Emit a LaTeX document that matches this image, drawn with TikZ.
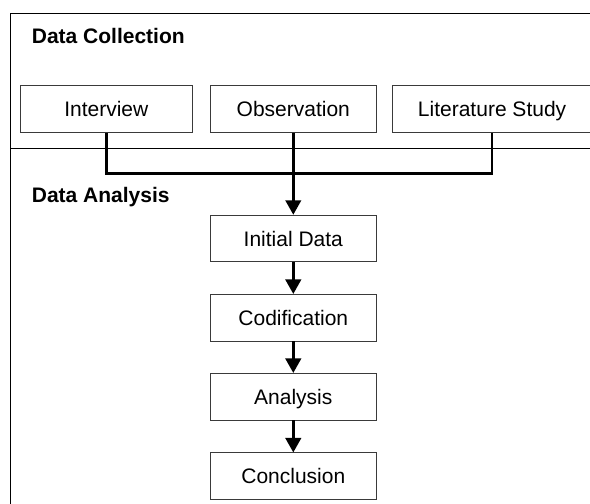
\documentclass[tikz,border=0pt]{standalone}
\usepackage{fontspec}
\setmainfont{Liberation Sans}
\usetikzlibrary{arrows.meta}

\begin{document}
\begin{tikzpicture}[x=1pt, y=-1pt]
    % Define lengths
    \def\boxHeight{46.6}
    \def\junctionY{173.3}

    \definecolor{borderColour}{HTML}{3A3A3A}
    \definecolor{lineColour}{HTML}{000000}

    \tikzset{
        stageBox/.style={draw=borderColour, line width=0.9pt, rectangle, inner sep=0pt,
            minimum height=\boxHeight, font=\fontsize{21}{25}\selectfont,
            text height=15pt, text depth=0pt},
        stageTitle/.style={anchor=base west, inner sep=0pt, font=\fontsize{21}{25}\selectfont\bfseries},
        flowLine/.style={draw=lineColour, line width=2.6pt},
        flowArrow/.style={flowLine, -{Triangle[width=15.5pt,length=14.5pt]}}
    }

    % Fix the page
    \useasboundingbox (0,0) rectangle (590,504);

    % Draw frame and separator
    \draw[lineColour, line width=0.9pt] (10.5,510) -- (10.5,13) -- (600,13);
    \draw[lineColour, line width=0.9pt] (10.5,148.3) -- (600,148.3);

    % Section titles
    \node[stageTitle] (collectionTitle) at (31.7,43.3) {Data Collection};
    \node[stageTitle] (analysisTitle) at (31.7,202.3) {Data Analysis};

    % Data collection methods
    \node[stageBox, minimum width=171.3] (interview) at (106.3,109) {Interview};
    \node[stageBox, minimum width=166.7] (observation) at (293.3,109) {Observation};
    \node[stageBox, minimum width=199.6] (literature) at (492.1,109) {Literature Study};

    % Data analysis steps
    \node[stageBox, minimum width=166.7] (initial) at (293.3,238.5) {Initial Data};
    \node[stageBox, minimum width=166.7] (codification) at (293.3,317.7) {Codification};
    \node[stageBox, minimum width=166.7] (analysis) at (293.3,396.7) {Analysis};
    \node[stageBox, minimum width=166.7] (conclusion) at (293.3,476.2) {Conclusion};

    % Draw connectors
    \coordinate (junction) at (interview.south |- 0,\junctionY);
    \draw[flowLine] (interview.south) -- (junction) -| (literature.south);
    \draw[flowArrow] (observation.south) -- (initial.north);
    \draw[flowArrow] (initial) -- (codification);
    \draw[flowArrow] (codification) -- (analysis);
    \draw[flowArrow] (analysis) -- (conclusion);

\end{tikzpicture}
\end{document}
